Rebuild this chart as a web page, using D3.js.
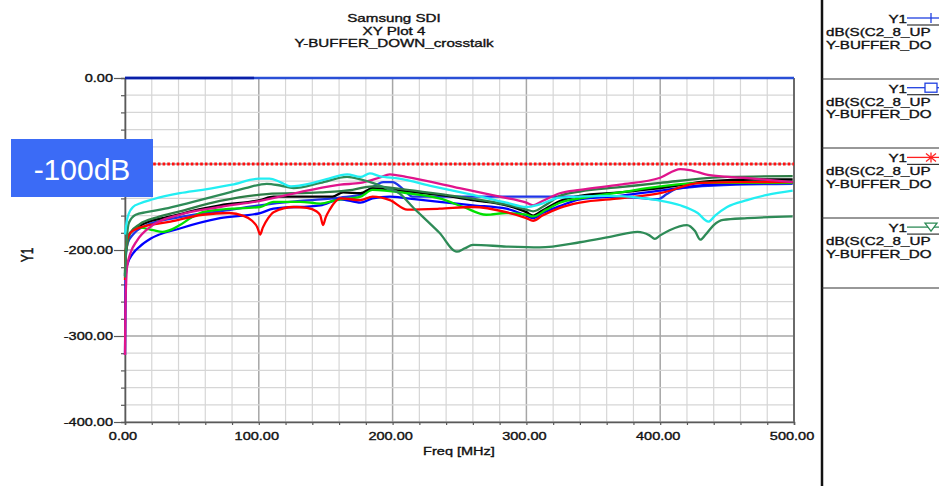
<!DOCTYPE html>
<html><head><meta charset="utf-8">
<script src="https://cdn.jsdelivr.net/npm/d3@7"></script>
<style>body{margin:0;background:#fff}svg{display:block}</style>
</head><body>
<script>
// ---------- data ----------
const titleLines = ["Samsung SDI", "XY Plot 4", "Y-BUFFER_DOWN_crosstalk"];
const xTicks = [0, 100, 200, 300, 400, 500];
const yTicks = [0, -100, -200, -300, -400];
const xTickLabels = ["0.00", "100.00", "200.00", "300.00", "400.00", "500.00"];
const yTickLabels = ["0.00", "-100.00", "-200.00", "-300.00", "-400.00"];
const limitDb = -100;
const limitLabel = "-100dB";

const top0Blue = [[0,0],[500,0]];
const top0Navy = [[0,0],[96.5,0]];
const cyanPts = [[0,-182],[0.5,-176],[1.5,-165],[3,-157],[6,-150],[11,-146],[21,-141],[41,-134],[58,-130],[80,-124],[100,-117],[108,-117],[116,-121],[124,-126],[131,-125],[150,-118],[166,-112],[176,-115],[183,-111],[190,-114],[205,-117],[230,-126],[260,-136],[285,-145],[300,-150],[310,-147],[325,-139],[360,-137],[398,-142],[415,-148],[428,-157],[436,-167],[441,-160],[450,-150],[465,-142],[480,-136],[499,-131]];
const greenAPts = [[0,-232],[0.5,-210],[1,-195],[3,-168],[8,-159],[16,-156],[30,-152],[46,-146],[71,-136],[90,-128],[106,-123],[116,-125],[126,-128],[146,-122],[166,-115],[176,-118],[185,-122],[195,-128],[205,-134],[215,-150],[225,-165],[235,-180],[248,-202],[254,-198],[260,-194],[285,-196],[310,-197],[340,-191],[365,-184],[383,-179],[392,-183],[396,-187],[400,-183],[407,-177],[420,-171],[426,-178],[430,-188],[434,-182],[440,-171],[447,-165],[465,-163],[499,-161]];
const greenBPts = [[0,-225],[0.5,-205],[1,-200],[4,-180],[11,-170],[24,-162],[41,-155],[71,-143],[106,-135],[146,-133],[170,-130],[185,-126],[211,-130],[240,-136],[270,-143],[290,-149],[300,-153],[305,-155],[315,-147],[325,-137],[340,-132],[370,-127],[400,-122],[450,-115],[499,-114]];
const blackPts = [[0,-230],[0.5,-205],[1.5,-190],[4,-180],[11,-172],[20,-166],[34,-161],[58,-152],[71,-148],[101,-142],[111,-138],[155,-138],[163,-133],[176,-134],[185,-128],[211,-132],[235,-136],[260,-142],[285,-148],[300,-156],[305,-160],[312,-154],[325,-143],[340,-137],[370,-133],[400,-128],[437,-120],[470,-118],[499,-118]];
const limePts = [[0,-228],[0.5,-205],[1.5,-190],[4,-180],[11,-174],[21,-177],[28,-179],[35,-176],[41,-171],[50,-162],[58,-156],[71,-153],[101,-150],[111,-144],[131,-144],[146,-146],[158,-142],[176,-138],[185,-130],[211,-134],[235,-140],[253,-150],[270,-159],[285,-157],[300,-159],[305,-161],[315,-153],[325,-145],[340,-140],[370,-133],[400,-126],[432,-122],[499,-122]];
const redPts = [[0,-235],[0.5,-205],[1.5,-188],[4,-180],[11,-174],[34,-167],[58,-159],[78,-157],[88,-160],[95,-166],[99,-174],[101,-182],[103,-174],[107,-163],[111,-156],[126,-150],[136,-151],[143,-155],[146,-160],[148,-171],[150,-162],[153,-153],[161,-140],[176,-142],[185,-138],[198,-142],[211,-153],[235,-152],[260,-150],[285,-156],[300,-163],[305,-166],[312,-160],[325,-151],[340,-145],[370,-140],[400,-134],[430,-122],[460,-121],[499,-121]];
const magentaPts = [[0,-322],[0.3,-270],[0.8,-240],[1.5,-220],[4,-204],[9,-189],[19,-173],[41,-159],[71,-150],[101,-143],[136,-131],[161,-124],[176,-122],[190,-116],[198,-112],[210,-115],[250,-128],[280,-138],[300,-145],[305,-148],[312,-143],[325,-134],[340,-130],[370,-124],[400,-116],[415,-106],[422,-107],[437,-113],[462,-116],[499,-121]];
const blue1Pts = [[0,-322],[0.5,-232],[1.5,-218],[6,-204],[11,-196],[19,-187],[41,-175],[71,-163],[101,-157],[111,-152],[146,-148],[161,-141],[176,-145],[185,-140],[198,-138],[211,-140],[235,-144],[260,-148],[285,-152],[300,-160],[305,-163],[312,-157],[325,-149],[340,-141],[370,-137],[400,-131],[430,-125],[460,-123],[499,-122]];
const blue2Pts = [[0,-230],[0.5,-210],[2,-192],[6,-182],[15,-172],[40,-162],[71,-155],[101,-148],[131,-143],[161,-139],[176,-136],[185,-127],[193,-121],[200,-121],[207,-128],[215,-138],[260,-138],[340,-138],[380,-139],[398,-141],[405,-135],[412,-129],[440,-125],[499,-123]];

const seriesList = [
  {pts: top0Blue, color: "#2a4fd6", w: 2.6},
  {pts: top0Navy, color: "#0a1fa8", w: 2.6},
  {pts: blue2Pts, color: "#1f35e8", w: 2.3},
  {pts: blue1Pts, color: "#0000ff", w: 2.3},
  {pts: blackPts, color: "#000000", w: 2.3},
  {pts: limePts, color: "#00e000", w: 2.3},
  {pts: greenBPts, color: "#2d7d46", w: 2.3},
  {pts: redPts, color: "#ff0000", w: 2.3},
  {pts: magentaPts, color: "#e0148c", w: 2.3},
  {pts: greenAPts, color: "#2e8b57", w: 2.3},
  {pts: cyanPts, color: "#22eef2", w: 2.3}
];
const legendRows = [
  {name: "Y1", l1: "dB(S(C2_8_UP", l2: "Y-BUFFER_DO", color: "#2040e0", marker: "plus"},
  {name: "Y1", l1: "dB(S(C2_8_UP", l2: "Y-BUFFER_DO", color: "#2040e0", marker: "square"},
  {name: "Y1", l1: "dB(S(C2_8_UP", l2: "Y-BUFFER_DO", color: "#ff2020", marker: "star"},
  {name: "Y1", l1: "dB(S(C2_8_UP", l2: "Y-BUFFER_DO", color: "#2e8b57", marker: "tri"}
];

// ---------- layout ----------
const W = 939, H = 486;
const X0 = 125, X1 = 794, Y0 = 78, Y1 = 422;
const SX = 1.32;
const FONT = "'Liberation Sans', Arial, sans-serif";

const svg = d3.select("body").append("svg").attr("width", W).attr("height", H);
svg.append("rect").attr("width", W).attr("height", H).attr("fill", "#fff");

const x = d3.scaleLinear().domain([0, 500]).range([X0, X1]);
const y = d3.scaleLinear().domain([-400, 0]).range([Y1, Y0]);

function txt(px, py, s, anchor, size, fill) {
  return svg.append("text")
    .attr("transform", `translate(${px},${py}) scale(${SX},1)`)
    .attr("text-anchor", anchor || "start")
    .attr("font-family", FONT)
    .attr("font-size", size || 11)
    .attr("fill", fill || "#111")
    .attr("stroke", fill || "#111").attr("stroke-width", 0.35)
    .text(s);
}

// title
titleLines.forEach((t, i) => txt(394, 22 + i * 12.6, t, "middle", 11.5, "#111"));

// grid
const gx = d3.range(0, 501, 20), gy = d3.range(-400, 1, 20);
const grid = svg.append("g");
gx.forEach(v => grid.append("line").attr("x1", x(v)).attr("x2", x(v)).attr("y1", Y0).attr("y2", Y1)
  .attr("stroke", v % 100 === 0 ? "#a6a6a6" : "#d6d6d6").attr("stroke-width", v % 100 === 0 ? 1.5 : 1.2));
gy.forEach(v => grid.append("line").attr("x1", X0).attr("x2", X1).attr("y1", y(v)).attr("y2", y(v))
  .attr("stroke", v % 100 === 0 ? "#a6a6a6" : "#d6d6d6").attr("stroke-width", v % 100 === 0 ? 1.5 : 1.2));

// axes
const yAxis = d3.axisLeft(y).tickValues(gy).tickSize(4).tickFormat("");
const ya = svg.append("g").attr("transform", `translate(${X0},0)`).call(yAxis);
ya.select(".domain").attr("stroke", "#5a5a5a").attr("stroke-width", 1.6);
ya.selectAll(".tick line").attr("stroke", "#5a5a5a").attr("stroke-width", 1.2)
  .attr("x2", d => d % 100 === 0 ? -11 : -4);
const xAxis = d3.axisBottom(x).tickValues(gx).tickSize(3).tickFormat("");
const xa = svg.append("g").attr("transform", `translate(0,${Y1})`).call(xAxis);
xa.select(".domain").attr("stroke", "#5a5a5a").attr("stroke-width", 1.6);
xa.selectAll(".tick line").attr("stroke", "#5a5a5a").attr("stroke-width", 1.2);
svg.append("line").attr("x1", X1).attr("x2", X1).attr("y1", Y0).attr("y2", Y1)
  .attr("stroke", "#6a6a6a").attr("stroke-width", 2);

yTicks.forEach((v, i) => txt(113, y(v) + 4, yTickLabels[i], "end", 11, "#111"));
xTicks.forEach((v, i) => txt(x(v) - 2, 440, xTickLabels[i], "middle", 11, "#111"));
txt(459, 455, "Freq [MHz]", "middle", 11, "#111");
svg.append("text").attr("transform", "translate(33,255) rotate(-90) scale(1,1.32)")
  .attr("text-anchor", "middle").attr("font-family", FONT).attr("font-size", 12)
  .attr("fill", "#111").attr("stroke", "#111").attr("stroke-width", 0.35).text("Y1");

// curves
svg.append("clipPath").attr("id", "clip").append("rect")
  .attr("x", X0 - 2).attr("y", Y0 - 3).attr("width", X1 - X0 + 3).attr("height", Y1 - Y0 + 3);
const line = d3.line().x(d => x(d[0])).y(d => y(d[1])).curve(d3.curveMonotoneX);
const cg = svg.append("g").attr("clip-path", "url(#clip)");
seriesList.forEach(s => cg.append("path").attr("d", line(s.pts)).attr("fill", "none")
  .attr("stroke", s.color).attr("stroke-width", s.w).attr("stroke-linejoin", "round"));

// limit line
svg.append("line").attr("x1", X0).attr("x2", X1).attr("y1", y(limitDb)).attr("y2", y(limitDb))
  .attr("stroke", "#ff1010").attr("stroke-width", 3).attr("stroke-dasharray", "2.6,2.1");

// -100dB box (covers the -100 tick label, as in the original)
svg.append("rect").attr("x", 11).attr("y", 139).attr("width", 142).attr("height", 58).attr("fill", "#3b6bf6");
svg.append("text").attr("x", 82).attr("y", 180).attr("text-anchor", "middle")
  .attr("font-family", FONT).attr("font-size", 30).attr("fill", "#fff").text(limitLabel);

// legend
svg.append("line").attr("x1", 822).attr("x2", 822).attr("y1", 0).attr("y2", H)
  .attr("stroke", "#111").attr("stroke-width", 2.5);
[79, 148, 218, 288].forEach(v => svg.append("line").attr("x1", 822).attr("x2", W).attr("y1", v).attr("y2", v)
  .attr("stroke", "#333").attr("stroke-width", 1.2));
legendRows.forEach((r, i) => {
  const t = 9 + i * 69.7;
  txt(907, t + 14, r.name, "end", 11.5, "#111");
  txt(826, t + 27, r.l1, "start", 11.5, "#111");
  txt(826, t + 39.5, r.l2, "start", 11.5, "#111");
  svg.append("line").attr("x1", 907).attr("x2", W).attr("y1", t + 9).attr("y2", t + 9)
    .attr("stroke", r.color).attr("stroke-width", 1.3);
  svg.append("line").attr("x1", 907).attr("x2", W).attr("y1", t + 16).attr("y2", t + 16)
    .attr("stroke", "#333").attr("stroke-width", 1.2);
  const mx = 931, my = t + 9;
  const mg = svg.append("g").attr("stroke", r.color).attr("fill", "none").attr("stroke-width", 1.3);
  if (r.marker === "plus") {
    mg.append("line").attr("x1", mx).attr("x2", mx).attr("y1", my - 5).attr("y2", my + 5);
  } else if (r.marker === "square") {
    mg.append("rect").attr("x", mx - 6).attr("y", my - 4.5).attr("width", 12).attr("height", 9).attr("fill", "#fff");
  } else if (r.marker === "star") {
    mg.append("line").attr("x1", mx).attr("x2", mx).attr("y1", my - 5).attr("y2", my + 5);
    mg.append("line").attr("x1", mx - 5).attr("x2", mx + 5).attr("y1", my - 4).attr("y2", my + 4);
    mg.append("line").attr("x1", mx - 5).attr("x2", mx + 5).attr("y1", my + 4).attr("y2", my - 4);
  } else {
    mg.append("path").attr("d", `M${mx - 6},${my - 4}L${mx + 6},${my - 4}L${mx},${my + 4}Z`).attr("fill", "#fff");
  }
});
</script>
</body></html>
